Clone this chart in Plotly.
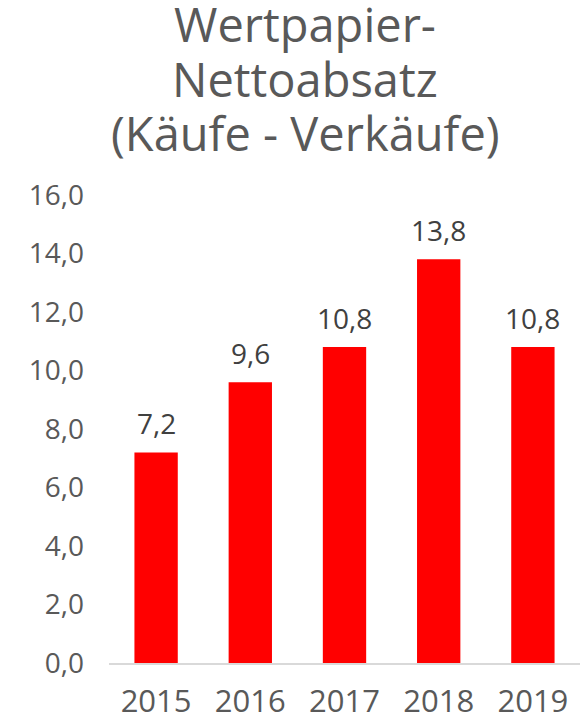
import plotly.graph_objects as go

years = ["2015", "2016", "2017", "2018", "2019"]
values = [7.2, 9.6, 10.8, 13.8, 10.8]
tick_vals = [0, 2, 4, 6, 8, 10, 12, 14, 16]
title_lines = ["Wertpapier-", "Nettoabsatz", "(Käufe - Verkäufe)"]
labels = [f"{v:.1f}".replace(".", ",") for v in values]

W, H = 583, 715
ML, MR, MT, MB = 109, 3, 195, 52
PH = H - MT - MB
PW = W - ML - MR

fig = go.Figure(go.Bar(
    x=years, y=values,
    marker=dict(color="#ff0000", line=dict(width=0)),
    cliponaxis=False,
))

def py(p):
    return 1 + (MT - p) / PH

annotations = []
for line, bottom_px in zip(title_lines, [58, 113, 167]):
    annotations.append(dict(
        text=line, showarrow=False,
        xref="paper", x=(305 - ML) / PW, xanchor="center",
        yref="paper", y=py(bottom_px), yanchor="bottom",
        font=dict(size=47, color="#595959", family="Open Sans"),
    ))
for i, (v, lab) in enumerate(zip(values, labels)):
    annotations.append(dict(
        x=i, y=v, xref="x", yref="y", text=lab, showarrow=False,
        yanchor="bottom", yshift=8,
        font=dict(size=28, color="#404040", family="Open Sans"),
    ))

fig.update_layout(
    width=W, height=H,
    separators=", ",
    paper_bgcolor="white", plot_bgcolor="white",
    margin=dict(l=ML, r=MR, t=MT, b=MB, autoexpand=False),
    bargap=0.54,
    showlegend=False,
    font=dict(family="Open Sans", color="#595959"),
    annotations=annotations,
)
fig.update_xaxes(
    type="category",
    showgrid=False, showline=True, linecolor="#d9d9d9", linewidth=1.5,
    ticks="", tickfont=dict(size=31, color="#595959"),
    ticklabelstandoff=10,
)
fig.update_yaxes(
    range=[0, 16], tickvals=tick_vals, tickformat=".1f",
    showgrid=False, zeroline=False, showline=False, ticks="",
    tickfont=dict(size=28, color="#595959"), ticklabelstandoff=24,
)

fig.write_html("out.html", config={"displayModeBar": False},
               post_script="document.body.style.margin='0';")
